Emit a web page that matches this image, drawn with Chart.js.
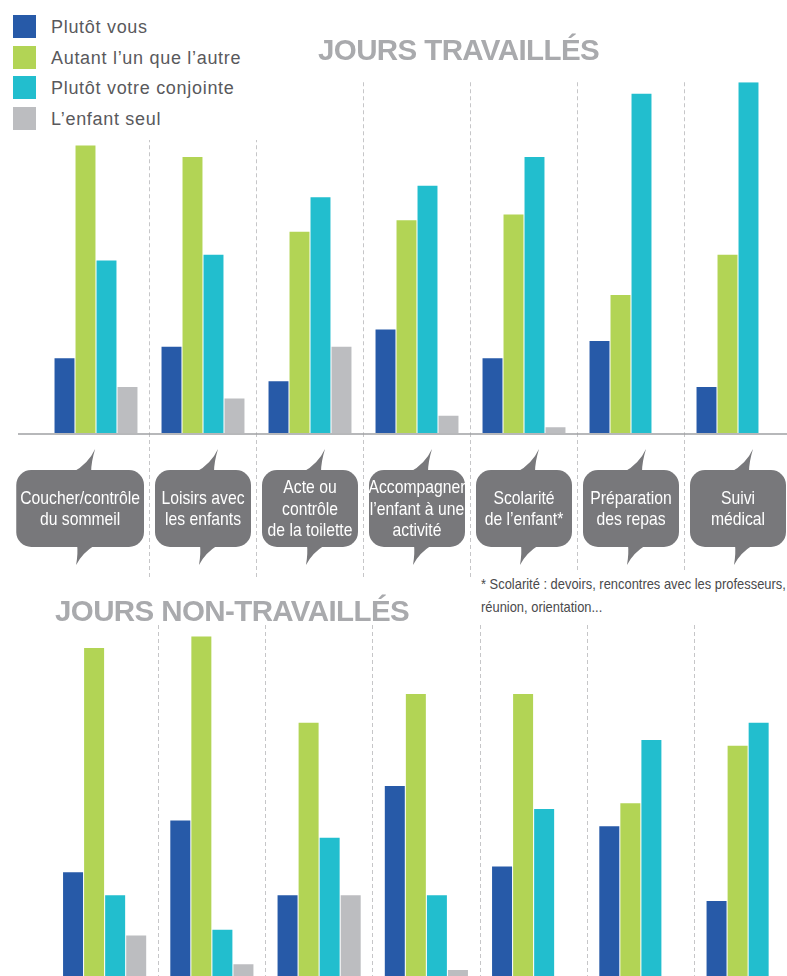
<!DOCTYPE html>
<html lang="fr">
<head>
<meta charset="utf-8">
<title>Jours travaillés / non-travaillés</title>
<script src="https://cdn.jsdelivr.net/npm/chart.js@4.4.1/dist/chart.umd.min.js"></script>
<style>
  html, body { margin: 0; padding: 0; background: #fff; }
  body { width: 787px; height: 976px; overflow: hidden; position: relative; font-family: "Liberation Sans", Arial, sans-serif; }
  .bloc { position: absolute; left: 0; }
  #legende { position: absolute; left: 0; top: 0; width: 266px; height: 140px; background: #fff; z-index: 2; }
  .item { position: absolute; left: 13px; height: 23px; display: flex; align-items: center; }
  .carre { width: 23px; height: 23px; margin-right: 15px; flex: none; }
  .item span { font-size: 18px; color: #59595c; letter-spacing: 0.7px; padding-top: 2px; white-space: nowrap; }
  .titre { position: absolute; font-weight: bold; font-size: 29.5px; line-height: 29px; color: #a9aaad; letter-spacing: -0.6px; white-space: nowrap; z-index: 2; }
  #note { position: absolute; left: 481px; top: 573px; font-size: 14.5px; line-height: 23px; color: #4a4a4c; transform: scaleX(0.89); transform-origin: 0 0; white-space: nowrap; background: #fff; z-index: 2; }
</style>
</head>
<body>
<div id="legende"></div>
<div class="titre" style="left:318px; top:35px;">JOURS TRAVAILLÉS</div>
<div class="titre" style="left:55px; top:596px;">JOURS NON-TRAVAILLÉS</div>
<div id="note">* Scolarité : devoirs, rencontres avec les professeurs,<br>réunion, orientation...</div>

<div class="bloc" style="top:0;"><canvas id="graphTravailles" width="800" height="590"></canvas></div>
<div class="bloc" style="top:600px;"><canvas id="graphNonTravailles" width="805" height="400"></canvas></div>

<script>
// Catégories (libellés des bulles)
const categories = [
    ["Coucher/contrôle", "du sommeil"],
    ["Loisirs avec", "les enfants"],
    ["Acte ou", "contrôle", "de la toilette"],
    ["Accompagner", "l’enfant à une", "activité"],
    ["Scolarité", "de l’enfant*"],
    ["Préparation", "des repas"],
    ["Suivi", "médical"]
];
const series = ["Plutôt vous", "Autant l’un que l’autre", "Plutôt votre conjointe", "L’enfant seul"];

// Jours travaillés (%)
const travVous       = [13, 15,  9, 18, 13, 16,  8];
const travAutant     = [50, 48, 35, 37, 38, 24, 31];
const travConjointe  = [30, 31, 41, 43, 48, 59, 61];
const travEnfant     = [ 8,  6, 15,  3,  1,  0,  0];

// Jours non-travaillés (%)
const nonTravVous      = [19, 28, 15, 34, 20, 27, 14];
const nonTravAutant    = [58, 60, 45, 50, 50, 31, 41];
const nonTravConjointe = [15,  9, 25, 15, 30, 42, 45];
const nonTravEnfant    = [ 8,  3, 15,  2, 0.4, 0,  0];

const couleurs = ["#275aa8", "#b2d455", "#22bece", "#bcbdc0"];
const couleurGrille = "#c6c6c8";

// Légende HTML
const legende = document.getElementById("legende");
series.forEach(function (nom, i) {
    const item = document.createElement("div");
    item.className = "item";
    item.style.top = (15 + i * 30.7) + "px";
    item.innerHTML = '<div class="carre" style="background:' + couleurs[i] + '"></div><span>' + nom + '</span>';
    legende.appendChild(item);
});

function jeuxDeDonnees(valeurs) {
    return valeurs.map(function (v, i) {
        return {
            label: series[i],
            data: v,
            backgroundColor: couleurs[i],
            borderWidth: 0,
            categoryPercentage: 0.785,
            barPercentage: 0.95
        };
    });
}

function couleurLigne(ctx) {
    return ctx.index === 0 ? "rgba(0,0,0,0)" : couleurGrille;
}

// Bulles sous l'axe + ligne de base
const pluginBulles = {
    id: "bulles",
    afterDraw: function (chart) {
        const ctx = chart.ctx;
        const x = chart.scales.x;
        const y0 = chart.scales.y.getPixelForValue(0);

        ctx.save();
        ctx.strokeStyle = "#9fa0a3";
        ctx.lineWidth = 1.6;
        ctx.beginPath();
        ctx.moveTo(18, y0 + 1);
        ctx.lineTo(800, y0 + 1);
        ctx.stroke();

        ctx.font = "18.5px 'Liberation Sans', Arial, sans-serif";
        const echelle = 0.85;
        const haut = y0 + 37;
        const bas = y0 + 114;
        const rayon = 15;

        chart.data.labels.forEach(function (lignes, i) {
            const cx = x.getPixelForValue(i);
            let maxW = 0;
            lignes.forEach(function (l) { maxW = Math.max(maxW, ctx.measureText(l).width * echelle); });
            const droite = cx + 48;
            const largeur = maxW > 100 ? maxW + 8 : 96;
            const gauche = droite - largeur;
            const bx = (gauche + droite) / 2;

            ctx.fillStyle = "#78787b";
            ctx.beginPath();
            ctx.roundRect(gauche, haut, largeur, bas - haut, rayon);
            ctx.fill();

            // queue du haut
            ctx.beginPath();
            ctx.moveTo(bx - 7, haut + 2);
            ctx.quadraticCurveTo(bx + 8, haut - 6, bx + 15, haut - 21);
            ctx.quadraticCurveTo(bx + 11, haut - 8, bx + 11, haut + 2);
            ctx.closePath();
            ctx.fill();

            // queue du bas
            ctx.beginPath();
            ctx.moveTo(bx + 15, bas - 2);
            ctx.quadraticCurveTo(bx + 2, bas + 6, bx - 4, bas + 18);
            ctx.quadraticCurveTo(bx - 2, bas + 6, bx - 3, bas - 2);
            ctx.closePath();
            ctx.fill();

            ctx.fillStyle = "#ffffff";
            ctx.textAlign = "center";
            ctx.textBaseline = "middle";
            const centre = (haut + bas) / 2 + 1;
            const pas = 21.5;
            lignes.forEach(function (l, k) {
                const ty = centre + (k - (lignes.length - 1) / 2) * pas;
                ctx.save();
                ctx.translate(bx, ty);
                ctx.scale(echelle, 1);
                ctx.fillText(l, 0, 0);
                ctx.restore();
            });
        });
        ctx.restore();
    }
};

// Graphique : jours travaillés
new Chart(document.getElementById("graphTravailles"), {
    type: "bar",
    data: {
        labels: categories,
        datasets: jeuxDeDonnees([travVous, travAutant, travConjointe, travEnfant])
    },
    options: {
        responsive: false,
        animation: false,
        layout: { padding: { left: 42.5, right: 8.5, top: 82.25, bottom: 12 } },
        scales: {
            x: {
                offset: true,
                ticks: { display: false },
                border: { display: false, dash: [4, 3] },
                grid: {
                    offset: true,
                    color: couleurLigne,
                    tickColor: couleurLigne,
                    lineWidth: 1,
                    drawTicks: true,
                    tickLength: 145,
                    tickBorderDash: [4, 3]
                }
            },
            y: { display: false, min: 0, max: 61 }
        },
        plugins: { legend: { display: false }, tooltip: { enabled: false } }
    },
    plugins: [pluginBulles]
});

// Graphique : jours non-travaillés
new Chart(document.getElementById("graphNonTravailles"), {
    type: "bar",
    data: {
        labels: categories,
        datasets: jeuxDeDonnees([nonTravVous, nonTravAutant, nonTravConjointe, nonTravEnfant])
    },
    options: {
        responsive: false,
        animation: false,
        layout: { padding: { left: 51, right: 3.25, top: 25, bottom: 18.5 } },
        scales: {
            x: {
                offset: true,
                ticks: { display: false },
                border: { display: false, dash: [4, 3] },
                grid: {
                    offset: true,
                    color: couleurLigne,
                    lineWidth: 1,
                    drawTicks: false
                }
            },
            y: { display: false, min: 0, max: 62 }
        },
        plugins: { legend: { display: false }, tooltip: { enabled: false } }
    }
});
</script>
</body>
</html>
